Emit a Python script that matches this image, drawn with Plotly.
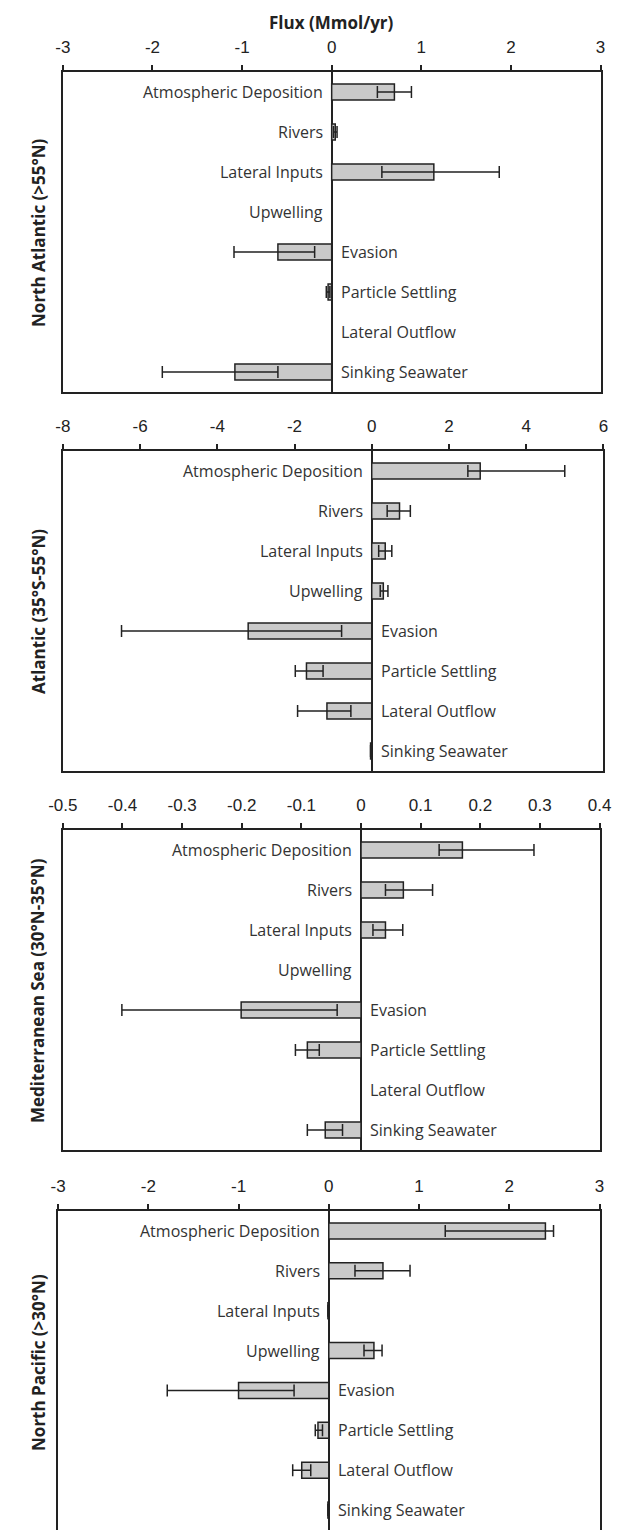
import plotly.graph_objects as go

categories = ["Atmospheric Deposition", "Rivers", "Lateral Inputs", "Upwelling",
              "Evasion", "Particle Settling", "Lateral Outflow", "Sinking Seawater"]
input_count = 4  # first four are inputs (labels left of zero), rest are outputs

region_titles = ["North Atlantic (>55°N)", "Atlantic (35°S-55°N)",
                 "Mediterranean Sea (30°N-35°N)", "North Pacific (>30°N)"]

# North Atlantic
na_flux = [0.70, 0.04, 1.14, None, -0.60, -0.04, None, -1.08]
na_lo = [0.51, 0.02, 0.56, None, -1.09, -0.06, None, -1.89]
na_hi = [0.89, 0.06, 1.87, None, -0.19, -0.02, None, -0.60]
na_ticks = [-3, -2, -1, 0, 1, 2, 3]
na_ticktext = ["-3", "-2", "-1", "0", "1", "2", "3"]

# Atlantic
atl_flux = [2.81, 0.72, 0.35, 0.30, -3.20, -1.69, -1.16, -0.03]
atl_lo = [2.49, 0.40, 0.18, 0.22, -6.48, -1.98, -1.92, -0.03]
atl_hi = [5.00, 1.00, 0.52, 0.42, -0.78, -1.26, -0.54, -0.03]
atl_ticks = [-8, -6, -4, -2, 0, 2, 4, 6]
atl_ticktext = ["-8", "-6", "-4", "-2", "0", "2", "4", "6"]

# Mediterranean
med_flux = [0.170, 0.071, 0.041, None, -0.201, -0.090, None, -0.060]
med_lo = [0.131, 0.041, 0.020, None, -0.401, -0.110, None, -0.090]
med_hi = [0.290, 0.120, 0.070, None, -0.040, -0.070, None, -0.031]
med_ticks = [-0.5, -0.4, -0.3, -0.2, -0.1, 0, 0.1, 0.2, 0.3, 0.4]
med_ticktext = ["-0.5", "-0.4", "-0.3", "-0.2", "-0.1", "0", "0.1", "0.2", "0.3", "0.4"]

# North Pacific
np_flux = [2.40, 0.60, -0.01, 0.50, -1.00, -0.12, -0.30, -0.01]
np_lo = [1.29, 0.29, -0.01, 0.39, -1.79, -0.15, -0.40, -0.01]
np_hi = [2.49, 0.90, -0.01, 0.59, -0.385, -0.07, -0.20, -0.01]
np_ticks = [-3, -2, -1, 0, 1, 2, 3]
np_ticktext = ["-3", "-2", "-1", "0", "1", "2", "3"]

panels = [
    (na_flux, na_lo, na_hi, na_ticks, na_ticktext),
    (atl_flux, atl_lo, atl_hi, atl_ticks, atl_ticktext),
    (med_flux, med_lo, med_hi, med_ticks, med_ticktext),
    (np_flux, np_lo, np_hi, np_ticks, np_ticktext),
]

W, H = 624, 1530
# pixel layout of each panel box: (left, right, top, bottom)
boxes = [(50, 612, 72, 392), (50, 615, 451, 771), (50, 611, 830, 1150), (45, 611, 1211, 1530)]

LINE = "#222222"
BAR_FILL = "#cacaca"
LABEL_FONT = dict(family="Open Sans, DejaVu Sans, sans-serif", size=16, color="#333333")
TICK_FONT = dict(family="Liberation Sans, Arial, sans-serif", size=17, color="#222222")
TITLE_FONT = dict(family="Open Sans, DejaVu Sans, sans-serif", size=17, color="#222222")

fig = go.Figure()
layout = dict(width=W, height=H, margin=dict(l=0, r=0, t=0, b=0),
              paper_bgcolor="white", plot_bgcolor="white", showlegend=False,
              bargap=0.6)
annotations = []

for i, (flux, lo, hi, tv, tt) in enumerate(panels):
    n = "" if i == 0 else str(i + 1)
    xa, ya = "x" + n, "y" + n
    plus = [None if v is None else max(a, b) - v for v, a, b in zip(flux, lo, hi)]
    minus = [None if v is None else v - min(a, b) for v, a, b in zip(flux, lo, hi)]
    fig.add_trace(go.Bar(
        y=categories, x=flux, orientation="h", xaxis=xa, yaxis=ya, width=0.4,
        marker=dict(color=BAR_FILL, line=dict(color=LINE, width=1.5)),
        error_x=dict(type="data", symmetric=False, array=plus, arrayminus=minus,
                     color=LINE, thickness=1.5, width=6),
        hoverinfo="skip",
    ))
    left, right, top, bottom = boxes[i]
    ydom = [max(0.0, 1 - bottom / H), 1 - top / H]
    layout["xaxis" + n] = dict(
        domain=[left / W, right / W], anchor=ya, side="top",
        range=[tv[0], tv[-1]], tickmode="array", tickvals=tv, ticktext=tt,
        ticks="outside", ticklen=5, tickwidth=1.5, tickcolor=LINE,
        showline=True, linecolor=LINE, linewidth=1.5, mirror=(i < 3),
        showgrid=False, zeroline=True, zerolinecolor=LINE, zerolinewidth=1.5,
        tickfont=TICK_FONT, ticklabelstandoff=5, ticklabeloverflow="allow",
    )
    layout["yaxis" + n] = dict(
        domain=ydom, anchor=xa, type="category",
        categoryorder="array", categoryarray=categories,
        range=[len(categories) - 0.5, -0.5],
        showticklabels=False, ticks="", showgrid=False, zeroline=False,
        showline=True, linecolor=LINE, linewidth=1.5, mirror=True,
    )
    for k, cat in enumerate(categories):
        is_input = k < input_count
        annotations.append(dict(
            x=0, y=cat, xref=xa, yref=ya, text=cat, showarrow=False,
            xanchor="right" if is_input else "left",
            xshift=-7 if is_input else 7, yanchor="middle",
            font=LABEL_FONT,
        ))
    annotations.append(dict(
        x=24 / W, y=(ydom[0] + ydom[1]) / 2 if i < 3 else 1 - (top + 151) / H,
        xref="paper", yref="paper", text="<b>" + region_titles[i] + "</b>",
        textangle=-90, showarrow=False, xanchor="center", yanchor="middle",
        font=TITLE_FONT,
    ))

annotations.append(dict(
    x=0.5, y=1 - 23 / H, xref="x domain", yref="paper", text="<b>Flux (Mmol/yr)</b>",
    showarrow=False, xanchor="center", yanchor="middle", font=TITLE_FONT,
))
layout["annotations"] = annotations
fig.update_layout(**layout)
fig.write_html("out.html")
